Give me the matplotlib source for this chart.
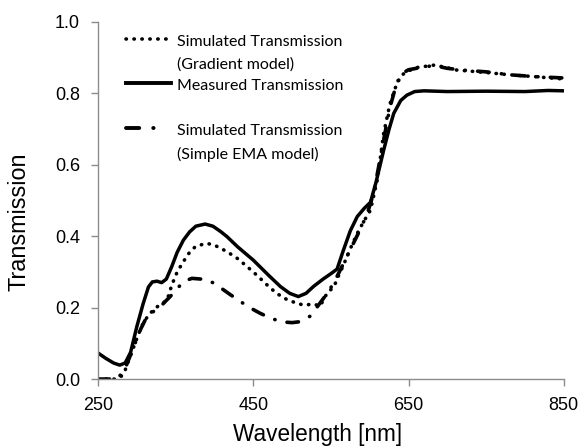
import numpy as np
import matplotlib.pyplot as plt
from matplotlib.lines import Line2D
from matplotlib.legend_handler import HandlerLine2D

# ---------- data ----------
wl_meas = [250, 260, 270, 278, 285, 292, 300, 308, 315, 320, 326, 332, 338, 345,
           352, 360, 368, 376, 388, 398, 408, 416, 430, 450, 470, 485, 497, 508,
           518, 528, 540, 550, 558, 566, 575, 584, 593, 601, 608, 618, 625, 631,
           640, 648, 658, 670, 700, 750, 800, 830, 850]
t_meas = [0.073, 0.058, 0.045, 0.039, 0.045, 0.075, 0.147, 0.21, 0.258, 0.272,
          0.274, 0.27, 0.28, 0.315, 0.355, 0.389, 0.412, 0.428, 0.434, 0.428,
          0.413, 0.399, 0.37, 0.333, 0.29, 0.259, 0.24, 0.231, 0.24, 0.26, 0.28,
          0.295, 0.308, 0.36, 0.415, 0.455, 0.478, 0.495, 0.55, 0.641, 0.70,
          0.744, 0.78, 0.795, 0.805, 0.807, 0.805, 0.806, 0.805, 0.808, 0.807]

wl_grad = [250, 260, 272, 280, 285, 290, 296, 302, 308, 316, 326, 333, 339, 345,
           352, 360, 368, 376, 390, 400, 416, 430, 442, 455, 468, 480, 493, 505,
           515, 528, 536, 540, 545, 554, 560, 566, 575, 584, 592, 601, 610, 618,
           626, 635, 642, 648, 660, 683, 700, 708, 730, 751, 780, 811, 850]
t_grad = [0.0, 0.0, 0.0, 0.008, 0.025, 0.055, 0.09, 0.125, 0.156, 0.182, 0.202,
          0.212, 0.221, 0.263, 0.3, 0.329, 0.355, 0.372, 0.38, 0.375, 0.357,
          0.337, 0.315, 0.29, 0.263, 0.24, 0.223, 0.213, 0.207, 0.21, 0.204,
          0.22, 0.24, 0.259, 0.29, 0.318, 0.365, 0.408, 0.44, 0.473, 0.56, 0.688,
          0.77, 0.828, 0.852, 0.861, 0.872, 0.879, 0.872, 0.866, 0.862, 0.858,
          0.852, 0.847, 0.84]

wl_ema = [250, 265, 275, 285, 296, 305, 313, 322, 330, 337, 343, 352, 360, 371,
          388, 400, 407, 420, 437, 448, 459, 473, 487, 500, 508, 517, 524, 535,
          547, 555, 562, 570, 579, 588, 597, 605, 612, 618, 626, 635, 642, 650,
          665, 683, 700, 720, 751, 780, 811, 850]
t_ema = [0.0, 0.0, 0.0, 0.03, 0.09, 0.14, 0.175, 0.19, 0.202, 0.218, 0.231, 0.253,
         0.273, 0.282, 0.279, 0.268, 0.257, 0.237, 0.212, 0.197, 0.184, 0.17,
         0.16, 0.158, 0.16, 0.168, 0.177, 0.21, 0.245, 0.275, 0.305, 0.34, 0.38,
         0.42, 0.464, 0.52, 0.6, 0.67, 0.76, 0.83, 0.856, 0.866, 0.872, 0.878,
         0.87, 0.865, 0.86, 0.852, 0.847, 0.843]

labels = ["Simulated Transmission\n(Gradient model)",
          "Measured Transmission\n ",
          "Simulated Transmission\n(Simple EMA model)"]


# legend handle sits on the first line of the two-line label
class FirstLineHandler(HandlerLine2D):
    def create_artists(self, legend, orig_handle, xdescent, ydescent,
                       width, height, fontsize, trans):
        arts = super().create_artists(legend, orig_handle, xdescent, ydescent,
                                      width, height, fontsize, trans)
        for a in arts:
            a.set_ydata(np.asarray(a.get_ydata()) + 0.88 * fontsize)
        return arts


plt.rcParams['font.family'] = ['Liberation Sans', 'DejaVu Sans']

fig = plt.figure(figsize=(5.8, 4.47), dpi=100)
ax = fig.add_axes([0.169, 0.152, 0.803, 0.799])

l_grad, = ax.plot(wl_grad, t_grad, color='black', lw=2.6,
                  linestyle=(0, (0.1, 2.1)), dash_capstyle='round')
l_meas, = ax.plot(wl_meas, t_meas, color='black', lw=2.5,
                  solid_capstyle='round', solid_joinstyle='round')
l_ema, = ax.plot(wl_ema, t_ema, color='black', lw=2.6,
                 linestyle=(0, (3.2, 3.4, 0.1, 3.4)), dash_capstyle='round')

# legend proxies (Excel draws shorter pattern in the key)
p_meas = Line2D([], [], color='black', lw=2.8)
p_ema = Line2D([], [], color='black', lw=2.8,
               linestyle=(0, (3.4, 3.6, 0.1, 12)), dash_capstyle='round')

ax.set_xlim(250, 850)
ax.set_ylim(0, 1.0)
ax.set_xticks([250, 450, 650, 850])
ax.set_yticks([0, 0.2, 0.4, 0.6, 0.8, 1.0])
ax.set_yticklabels(["%.1f" % v for v in [0, 0.2, 0.4, 0.6, 0.8, 1.0]])

for s in ['top', 'right']:
    ax.spines[s].set_visible(False)
for s in ['left', 'bottom']:
    ax.spines[s].set_color('#8c8c8c')
    ax.spines[s].set_linewidth(1.0)
ax.tick_params(direction='out', length=5, width=1.0, color='#8c8c8c',
               labelsize=13, pad=8)

ax.set_xlabel("Wavelength [nm]", fontsize=16.3)
ax.set_ylabel("Transmission", fontsize=16.8)
ax.xaxis.set_label_coords(0.471, -0.124)
ax.yaxis.set_label_coords(-0.145, 0.44)

h = FirstLineHandler()
leg = ax.legend([l_grad, p_meas, p_ema], labels, loc='upper left',
                bbox_to_anchor=(0.06, 0.964), frameon=False,
                prop={'family': 'Lato', 'size': 11.5},
                handlelength=2.8, handletextpad=0.4, labelspacing=0.5,
                borderpad=0, borderaxespad=0,
                handler_map={l_grad: h, p_meas: h, p_ema: h})
for t in leg.get_texts():
    t.set_linespacing(1.74)

fig.savefig("out.png", dpi=100)
